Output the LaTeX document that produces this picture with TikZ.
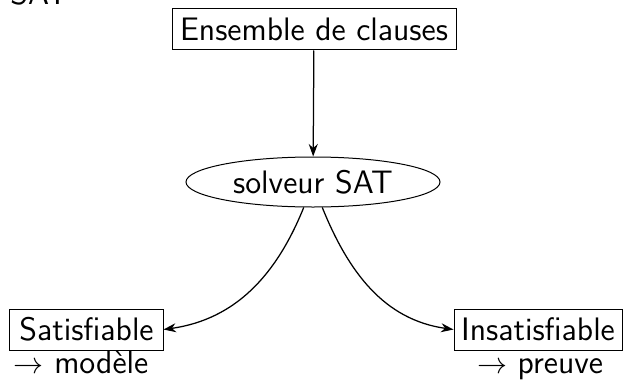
\documentclass[tikz,border=0pt]{standalone}
\usetikzlibrary{shapes.geometric,arrows.meta}
\renewcommand{\familydefault}{\sfdefault}
\begin{document}
\begin{tikzpicture}[x=0.4pt,y=-0.4pt,
  every node/.style={font=\fontsize{13}{15}\selectfont\sffamily},
  box/.style={draw, inner sep=0pt},
  blob/.style={draw, ellipse, inner sep=0pt, minimum width=101.6pt, minimum height=20pt},
  note/.style={anchor=base, inner sep=0pt},
  link/.style={-{Stealth[length=5pt,width=3.6pt]}, line width=0.5pt}]
  \useasboundingbox (0,0) rectangle (624,379);
  % frame title, cut by the top edge
  \node[anchor=base west, inner sep=0pt] (title) at (10,5) {SAT};
  \node[box, minimum width=113.6pt, minimum height=16.4pt] (clauses) at (314,29.5) {Ensemble de clauses};
  \node[blob] (solver) at (313,182) {solveur SAT};
  \node[box, minimum width=61.2pt, minimum height=16.4pt] (sat) at (86.5,329.5) {Satisfiable};
  \node[box, minimum width=67.2pt, minimum height=16.4pt] (unsat) at (538,329.5) {Insatisfiable};
  \node[note] (model) at (81,373) {$\rightarrow$ modèle};
  \node[note] (proof) at (540,373) {$\rightarrow$ preuve};
  \draw[link] (clauses) -- (solver);
  \draw[link] (solver.-110) to[out=-112, in=8] (sat.east);
  \draw[link] (solver.-70) to[out=-68, in=172] (unsat.west);
\end{tikzpicture}
\end{document}
